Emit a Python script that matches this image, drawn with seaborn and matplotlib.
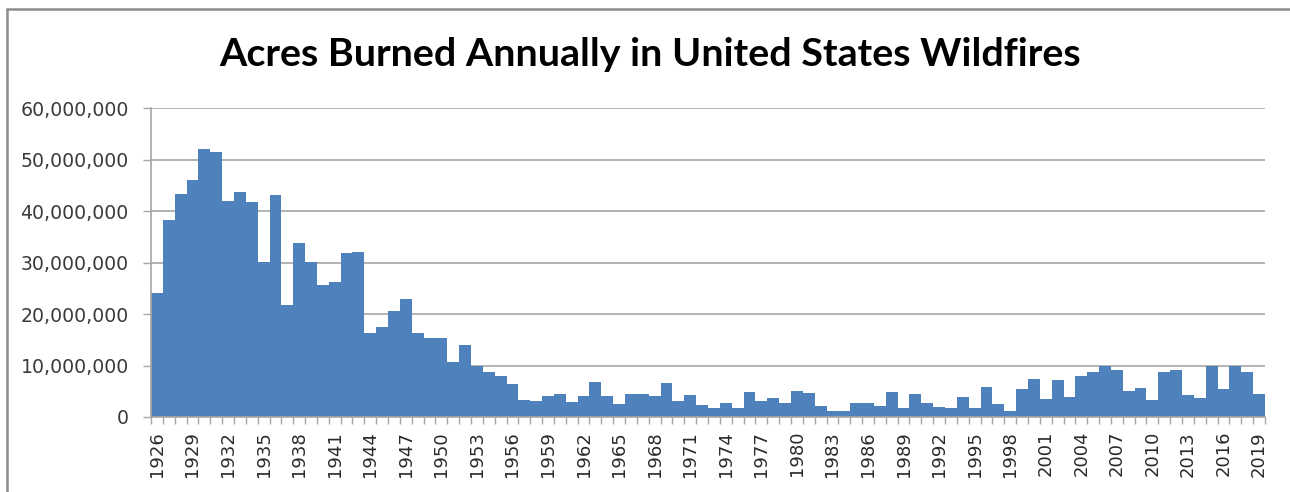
import matplotlib
matplotlib.use("Agg")
import matplotlib.pyplot as plt
import seaborn as sns
import pandas as pd
from matplotlib.ticker import FuncFormatter, FixedLocator
from matplotlib.lines import Line2D

years = list(range(1926, 2020))
acres_millions = [
    24.2, 38.4, 43.3, 46.0, 52.1, 51.6, 42.0, 43.8, 41.8, 30.2,
    43.1, 21.7, 33.8, 30.2, 25.6, 26.2, 31.8, 32.1, 16.4, 17.5,
    20.6, 23.0, 16.4, 15.3, 15.3, 10.6, 14.0, 9.9, 8.7, 8.0,
    6.4, 3.4, 3.1, 4.0, 4.4, 2.9, 4.0, 6.9, 4.0, 2.5,
    4.4, 4.4, 4.0, 6.6, 3.1, 4.2, 2.4, 1.8, 2.7, 1.8,
    4.9, 3.1, 3.75, 2.8, 5.1, 4.7, 2.2, 1.1, 1.1, 2.7,
    2.7, 2.1, 4.9, 1.8, 4.5, 2.8, 2.0, 1.7, 3.9, 1.7,
    5.9, 2.6, 1.2, 5.5, 7.4, 3.55, 7.1, 3.8, 8.0, 8.75,
    9.9, 9.1, 5.1, 5.7, 3.3, 8.75, 9.1, 4.2, 3.6, 10.0,
    5.5, 10.0, 8.75, 4.5,
]
acres = [v * 1_000_000 for v in acres_millions]
title = "Acres Burned Annually in United States Wildfires"
y_ticks = [0, 10_000_000, 20_000_000, 30_000_000, 40_000_000, 50_000_000, 60_000_000]
label_step = 3

df = pd.DataFrame({"year": [str(y) for y in years], "acres": acres})

sns.set_theme(style="white")
plt.rcParams["font.family"] = ["Lato", "DejaVu Sans"]

fig = plt.figure(figsize=(12.9, 4.92), dpi=100)
ax = fig.add_axes([151 / 1290, 1 - 417 / 492, (1265 - 151) / 1290, (417 - 108.5) / 492])

sns.barplot(data=df, x="year", y="acres", ax=ax, color="#4F81BD", width=1.0,
            saturation=1.0, edgecolor="none", linewidth=0)

n = len(years)
ax.set_xlim(-0.5, n - 0.5)
ax.set_ylim(0, 60_000_000)
ax.set_yticks(y_ticks)
ax.yaxis.set_major_formatter(FuncFormatter(lambda v, p: f"{int(v):,}"))
ax.yaxis.grid(True, color="#A6A6A6", linewidth=1.2)
ax.set_axisbelow(True)

ax.set_xticks([i for i in range(0, n, label_step)])
ax.set_xticklabels([str(years[i]) for i in range(0, n, label_step)], rotation=90)
ax.xaxis.set_minor_locator(FixedLocator([i - 0.5 for i in range(n + 1)]))
ax.tick_params(axis="x", which="major", length=0, pad=10, labelsize=13, labelcolor="#2a2a2a")
ax.tick_params(axis="x", which="minor", length=5, width=1, color="#A6A6A6", bottom=True)
ax.tick_params(axis="y", which="major", length=6, width=1, color="#A6A6A6", left=True,
               labelsize=13.6, labelcolor="#3a3a3a", pad=10)
for lab in ax.get_xticklabels() + ax.get_yticklabels():
    lab.set_fontfamily("DejaVu Sans")
ax.set_xlabel("")
ax.set_ylabel("")

for side in ["top", "right"]:
    ax.spines[side].set_visible(False)
for side in ["left", "bottom"]:
    ax.spines[side].set_color("#A6A6A6")
    ax.spines[side].set_linewidth(1.2)

fig.text(650 / 1290, 1 - 55 / 492, title, ha="center", va="center",
         fontsize=28.4, fontweight="bold", color="black")

# outer border (top and left)
fig.add_artist(Line2D([7 / 1290, 7 / 1290], [0, 1 - 8.5 / 492], transform=fig.transFigure,
                      color="#8C8C8C", linewidth=1.8))
fig.add_artist(Line2D([7 / 1290, 1], [1 - 8.5 / 492, 1 - 8.5 / 492], transform=fig.transFigure,
                      color="#8C8C8C", linewidth=1.8))

fig.savefig("out.png", dpi=100)
